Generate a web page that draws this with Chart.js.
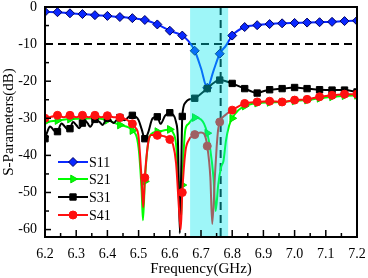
<!DOCTYPE html>
<html><head><meta charset="utf-8">
<script src="https://cdn.jsdelivr.net/npm/chart.js"></script>
<style>html,body{margin:0;padding:0;background:#fff;}#wrap{width:368px;height:278px;}</style>
</head><body><div id="wrap"><canvas id="c" width="368" height="278"></canvas></div>
<script>
// ---- data ----
const X_TICKS = [6.2,6.3,6.4,6.5,6.6,6.7,6.8,6.9,7.0,7.1,7.2];
const Y_TICKS = [0,-10,-20,-30,-40,-50,-60];
const SERIES_NAMES = ['S11','S21','S31','S41'];
const REF_LEVEL = -10;
const MARK_FREQ = 6.763;
const BAND = [6.665, 6.787];

const S11_F = [6.20,6.24,6.28,6.32,6.36,6.40,6.44,6.48,6.52,6.56,6.60,6.64,6.66,6.68,6.70,6.72,6.74,6.76,6.78,6.80,6.84,6.88,6.92,6.96,7.00,7.04,7.08,7.12,7.16,7.20];
const S11_DB = [-1.3,-1.4,-1.7,-1.9,-2.2,-2.4,-2.7,-3.0,-3.5,-4.7,-6.4,-7.7,-9.2,-11.8,-16.5,-21.8,-17.2,-12.6,-10.4,-7.7,-5.4,-4.9,-4.6,-4.4,-4.3,-4.2,-4.1,-4.0,-3.8,-3.7];

const S21_F = [6.20,6.24,6.28,6.32,6.36,6.40,6.44,6.48,6.50,6.51,6.514,6.52,6.53,6.54,6.56,6.58,6.60,6.61,6.62,6.63,6.635,6.64,6.645,6.65,6.66,6.68,6.70,6.71,6.72,6.73,6.74,6.747,6.755,6.765,6.772,6.78,6.79,6.80,6.82,6.84,6.88,6.92,6.96,7.00,7.04,7.08,7.12,7.16,7.20];
const S21_DB = [-31.0,-30.6,-30.2,-30.1,-30.0,-30.5,-31.8,-33.3,-38,-50,-57.5,-47,-37,-34.3,-33.6,-33.3,-33.0,-33.8,-37,-50,-58,-48,-38,-33,-31.5,-29.8,-30.3,-31.5,-34,-38.5,-46,-55,-48,-43,-41.5,-36,-32,-30,-27.8,-26.7,-25.9,-25.7,-25.6,-25.3,-25.1,-24.6,-24.2,-23.9,-23.8];

const S31_F = [6.200,6.208,6.216,6.226,6.236,6.240,6.253,6.264,6.275,6.280,6.290,6.300,6.310,6.320,6.328,6.337,6.345,6.360,6.375,6.385,6.393,6.400,6.410,6.420,6.430,6.440,6.455,6.470,6.480,6.490,6.500,6.510,6.520,6.530,6.545,6.560,6.570,6.585,6.600,6.610,6.620,6.626,6.632,6.637,6.640,6.650,6.660,6.680,6.700,6.720,6.740,6.760,6.780,6.800,6.840,6.860,6.880,6.900,6.920,6.960,7.000,7.040,7.080,7.120,7.160,7.200];
const S31_DB = [-35.5,-33.5,-32.2,-33.0,-33.8,-33.6,-31.4,-32.3,-33.2,-32.8,-31.0,-31.8,-32.7,-31.3,-30.5,-31.4,-32.3,-30.3,-31.0,-31.8,-30.8,-30.0,-30.6,-31.3,-30.4,-29.8,-30.5,-29.5,-29.2,-29.5,-30.5,-33.0,-35.5,-34.0,-30.0,-29.6,-31.5,-29.3,-28.5,-29.0,-31.0,-36.0,-61.0,-42.0,-29.5,-25.8,-25.0,-24.6,-23.4,-22.0,-20.5,-19.7,-20.0,-20.6,-22.0,-22.7,-23.2,-22.7,-22.3,-22.0,-21.7,-22.0,-22.3,-22.4,-22.4,-22.9];

const S41_F = [6.20,6.22,6.24,6.26,6.28,6.30,6.32,6.34,6.36,6.38,6.40,6.42,6.44,6.46,6.48,6.49,6.50,6.51,6.515,6.52,6.53,6.54,6.56,6.58,6.60,6.61,6.62,6.63,6.635,6.64,6.65,6.66,6.68,6.70,6.71,6.72,6.73,6.736,6.745,6.75,6.755,6.76,6.78,6.80,6.84,6.88,6.92,6.96,7.00,7.04,7.08,7.12,7.16,7.20];
const S41_DB = [-30.0,-29.6,-29.2,-29.7,-29.2,-29.7,-29.2,-29.7,-29.2,-29.7,-29.3,-29.7,-29.8,-30.3,-31.5,-32.5,-35,-47,-54,-46,-37,-34.5,-34.6,-34.8,-35.7,-37,-42,-55,-60,-50,-39,-36,-34.4,-33.8,-34.2,-37.5,-46,-58.5,-45,-38,-33,-31.0,-29.0,-27.8,-26.0,-25.6,-25.4,-25.6,-25.1,-24.9,-24.2,-23.8,-23.5,-23.5];

// ---- styles ----
const COLORS = ['#0A28FF','#00FF00','#000000','#FF1010'];
const POINT_STYLES = ['rectRot','triangle','rect','circle'];
const POINT_ROT = [0,90,0,0];
const POINT_R = [4.5,4.5,4.5,4];
const POINT_BORDER = ['#000060','#00DD00','#000000','#FF1010'];
const FONT = '"Liberation Serif","Times New Roman",serif';

function isMarker(x){ const k=(x-6.2)/0.04; return Math.abs(k-Math.round(k))<0.06; }
function pts(F,D){ return F.map((x,i)=>({x:x,y:D[i]})); }

const SERIES = [pts(S11_F,S11_DB),pts(S21_F,S21_DB),pts(S31_F,S31_DB),pts(S41_F,S41_DB)];

const datasets = SERIES.map((d,i)=>({
  label: SERIES_NAMES[i],
  data: d,
  borderColor: COLORS[i],
  backgroundColor: COLORS[i],
  pointBackgroundColor: COLORS[i],
  pointBorderColor: POINT_BORDER[i],
  pointBorderWidth: 1,
  borderWidth: 2,
  pointStyle: POINT_STYLES[i],
  rotation: POINT_ROT[i],
  pointRadius: ctx => (ctx.raw && isMarker(ctx.raw.x)) ? POINT_R[i] : 0,
  pointHoverRadius: 0,
  cubicInterpolationMode: 'monotone',
  fill: false,
  order: 3 - i
}));

function drawMarker(ctx, style, x, y, r, rot){
  ctx.beginPath();
  if (style==='circle'){ ctx.arc(x,y,r,0,Math.PI*2); }
  else if (style==='rect'){ const s=r*Math.SQRT1_2; ctx.rect(x-s,y-s,2*s,2*s); }
  else if (style==='rectRot'){ ctx.moveTo(x,y-r); ctx.lineTo(x+r,y); ctx.lineTo(x,y+r); ctx.lineTo(x-r,y); ctx.closePath(); }
  else if (style==='triangle'){
    let a = (rot||0)*Math.PI/180 - Math.PI/2;
    for (let k=0;k<3;k++){ const ang=a+k*2*Math.PI/3; const px=x+Math.cos(ang)*r, py=y+Math.sin(ang)*r; if(k===0)ctx.moveTo(px,py); else ctx.lineTo(px,py);} ctx.closePath();
  }
  ctx.fill(); ctx.stroke();
}

const overlay = {
  id:'overlay',
  beforeDatasetsDraw(chart){
    const {ctx, chartArea:a, scales:{x,y}} = chart;
    ctx.save();
    ctx.strokeStyle='#000'; ctx.lineWidth=2; ctx.setLineDash([8,5]);
    const yy = y.getPixelForValue(REF_LEVEL);
    ctx.beginPath(); ctx.moveTo(a.left,yy); ctx.lineTo(a.right,yy); ctx.stroke();
    const xx = x.getPixelForValue(MARK_FREQ);
    ctx.beginPath(); ctx.moveTo(xx,a.top); ctx.lineTo(xx,a.bottom); ctx.stroke();
    ctx.restore();
  },
  afterDatasetsDraw(chart){
    const {ctx, chartArea:a, scales:{x,y}} = chart;
    ctx.save();
    const x0 = x.getPixelForValue(BAND[0]), x1 = x.getPixelForValue(BAND[1]);
    ctx.fillStyle='rgba(0,232,236,0.38)';
    ctx.fillRect(x0,a.top,x1-x0,a.bottom-a.top);
    ctx.strokeStyle='#000'; ctx.lineWidth=2;
    ctx.strokeRect(a.left,a.top,a.right-a.left,a.bottom-a.top);
    ctx.lineWidth=1.5;
    for (let k=0;k<=20;k++){
      const v = 6.2 + k*0.05; const px = x.getPixelForValue(v);
      const L = (k%2===0)?7:4;
      ctx.beginPath(); ctx.moveTo(px,a.bottom); ctx.lineTo(px,a.bottom-L); ctx.stroke();
    }
    for (let k=0;k<=12;k++){
      const v = -k*5; const py = y.getPixelForValue(v);
      const L = (k%2===0)?6:4;
      ctx.beginPath(); ctx.moveTo(a.left,py); ctx.lineTo(a.left+L,py); ctx.stroke();
    }
    ctx.font = '14px ' + FONT; ctx.textBaseline='middle'; ctx.textAlign='left';
    const rows = [a.bottom-75, a.bottom-58, a.bottom-40, a.bottom-22];
    for (let i=0;i<4;i++){
      const yy = rows[i];
      ctx.strokeStyle = COLORS[i]; ctx.lineWidth=2;
      ctx.beginPath(); ctx.moveTo(a.left+13,yy); ctx.lineTo(a.left+43,yy); ctx.stroke();
      ctx.fillStyle = COLORS[i]; ctx.strokeStyle = POINT_BORDER[i]; ctx.lineWidth=1;
      drawMarker(ctx, POINT_STYLES[i], a.left+28, yy, POINT_R[i], POINT_ROT[i]);
      ctx.fillStyle='#000';
      ctx.fillText(SERIES_NAMES[i], a.left+44, yy+1);
    }
    ctx.restore();
  }
};

new Chart(document.getElementById('c'), {
  type:'line',
  data:{datasets},
  options:{
    responsive:false, animation:false, devicePixelRatio:1,
    layout:{padding:{top:7,right:11,left:0,bottom:0}},
    plugins:{legend:{display:false}, tooltip:{enabled:false}},
    scales:{
      x:{type:'linear', min:6.2, max:7.2,
        afterBuildTicks: s => { s.ticks = X_TICKS.map(v=>({value:v})); },
        afterFit: s => { s.height = 41; s.paddingLeft = 0; s.paddingRight = 0; },
        grid:{display:false, drawTicks:false},
        border:{display:false},
        ticks:{color:'#000', font:{family:FONT,size:14}, padding:9, maxRotation:0, autoSkip:false,
          callback: v => Number(v).toFixed(1)},
        title:{display:true, text:'Frequency(GHz)', color:'#000', font:{family:FONT,size:15}, padding:{top:0,bottom:0}}
      },
      y:{type:'linear', min:-62, max:0,
        afterBuildTicks: s => { s.ticks = Y_TICKS.map(v=>({value:v})); },
        afterFit: s => { s.width = 45; s.paddingTop = 0; s.paddingBottom = 0; },
        grid:{display:false, drawTicks:false},
        border:{display:false},
        ticks:{color:'#000', font:{family:FONT,size:14}, padding:8, autoSkip:false,
          callback: v => String(v)},
        title:{display:true, text:'S-Parameters(dB)', color:'#000', font:{family:FONT,size:15}, padding:{top:0,bottom:3}}
      }
    }
  },
  plugins:[overlay]
});
</script>
</body></html>
